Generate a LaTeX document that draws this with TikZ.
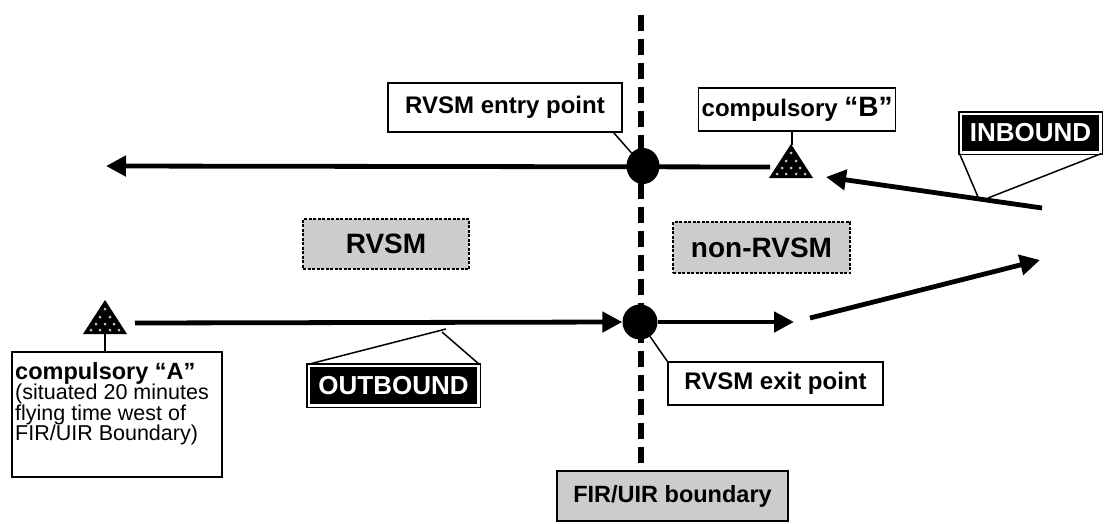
\documentclass[tikz,border=0pt]{standalone}
\usepackage{fontspec}
\setmainfont{Liberation Sans}
\usetikzlibrary{arrows.meta,shapes.geometric}
\definecolor{boxgray}{gray}{0.8}
\begin{document}
\begin{tikzpicture}[x=1pt,y=-1pt,
  lbl/.style={draw=black, line width=1.4pt, fill=white, inner sep=0pt,
    font=\fontsize{24}{28}\selectfont\bfseries},
  area/.style={draw=black, dash pattern=on 3pt off 1.5pt, line width=1.2pt,
    fill=boxgray, inner sep=0pt, font=\fontsize{28}{32}\selectfont\bfseries},
  tagbox/.style={fill=black, text=white, draw=white, line width=2.5pt,
    preaction={draw=black, line width=5.5pt}, inner sep=0pt,
    font=\fontsize{26}{30}\selectfont\bfseries},
  flow/.style={line width=4.8pt, -{Triangle[length=20pt,width=20pt]}},
  leader/.style={line width=1.5pt},
  wpt/.pic={
    \fill[black] (0,0) -- (-22,34) -- (22,34) -- cycle;
    \foreach \dx/\dy in {0/9, -5/17, 5/17, -9/24, 0/24, 9/24, -14/30, -5/30, 5/30, 14/30}
      \fill[gray!45] (\dx,\dy) circle (1.5);
  }
]
\useasboundingbox (0,0) rectangle (1104,523);

% FIR boundary
\node[draw=black, line width=1.6pt, fill=boxgray, inner sep=0pt,
  minimum width=231pt, minimum height=50pt,
  font=\fontsize{23.5}{27}\selectfont\bfseries] (FIR) at (672.5,496) {FIR/UIR boundary};
\coordinate (top) at (641,15);
\draw[line width=5.5pt, dash pattern=on 16pt off 8pt] (top) -- (top |- FIR.north);

% areas
\node[area, minimum width=166pt, minimum height=50pt] (rvsm) at (386,244) {RVSM};
\node[area, minimum width=177pt, minimum height=51pt] (nonrvsm) at (761.5,247.5) {non-RVSM};

% compulsory points
\pic (tB) at (791,144) {wpt};
\pic (tA) at (105,300) {wpt};
\coordinate (Bapex) at (792,145);
\coordinate (Bleft) at (770,167);
\coordinate (Aapex) at (105,334);
\coordinate (Aright) at (135,323);

% labels
\node[lbl, minimum width=234pt, minimum height=49pt] (entrybox) at (505,107.5) {RVSM entry point};
\node[lbl, minimum width=215pt, minimum height=43pt] (exitbox) at (775.5,383.5) {RVSM exit point};
\node[lbl, minimum height=43pt, anchor=west, inner xsep=3pt] (Bbox) at (698,109.5)
  {compulsory {\fontsize{28}{30}\selectfont “B”}};
\node[lbl, minimum width=210pt, minimum height=125pt] (Abox) at (117,414.5) {};
\node[anchor=north west, align=left, inner sep=0pt,
  font=\fontsize{21.5}{20.5}\selectfont] (Atext) at (15,362)
  {{\fontsize{23.5}{20.5}\selectfont\bfseries compulsory “A”}\\(situated 20 minutes\\flying time west of\\FIR/UIR Boundary)};

% tags
\node[tagbox, minimum width=139.5pt, minimum height=38.5pt] (inb) at (1030.5,133) {INBOUND};
\node[tagbox, minimum width=169.5pt, minimum height=39.5pt] (outb) at (393.5,385.5) {OUTBOUND};

% flows
\coordinate (west) at (106,166);
\coordinate (exitend) at (794,322);
\coordinate (outstart) at (810,318);
\coordinate (outend) at (1040,260);
\coordinate (instart) at (1042,208);
\coordinate (inend) at (826,177);

\draw[flow] (Bleft) -- (west);
\draw[flow] (instart) -- (inend);
\draw[flow] (outstart) -- (outend);

% points
\node[ellipse, fill=black, minimum width=33pt, minimum height=36pt, inner sep=0pt] (entry) at (643,166) {};
\node[circle, fill=black, minimum size=35pt, inner sep=0pt] (exit) at (640,322) {};

\draw[flow] (Aright) -- (exit.west);
\draw[flow] (exit.east) -- (exitend);

% leaders
\draw[leader] ([xshift=-9pt]entrybox.south east) -- (entry);
\draw[leader] (exitbox.north west) -- (exit);
\draw[leader] (Bbox.south -| Bapex) -- (Bapex);
\draw[leader] (Aapex) -- (Abox.north -| Aapex);
\draw[leader] (outb.north west) -- (446,329);
\draw[leader] (442,332) -- (outb.north east);
\draw[leader] (inb.south west) -- (978,197);
\draw[leader] (988,198) -- (inb.south east);
\end{tikzpicture}
\end{document}
